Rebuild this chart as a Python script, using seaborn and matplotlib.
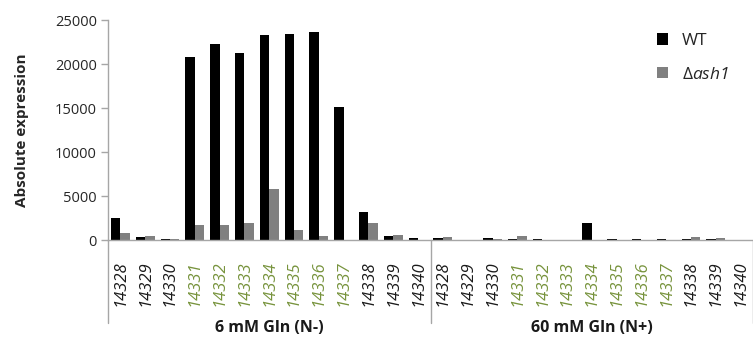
import matplotlib
matplotlib.use('Agg')
import matplotlib.pyplot as plt
import matplotlib.transforms as mtransforms
import pandas as pd
import seaborn as sns

# gene ids shown on the x axis (repeated for each condition)
genes = ['14328', '14329', '14330', '14331', '14332', '14333', '14334',
         '14335', '14336', '14337', '14338', '14339', '14340']
cluster_genes = ['14331', '14332', '14333', '14334', '14335', '14336', '14337']
conditions = ['6 mM Gln (N-)', '60 mM Gln (N+)']
strains = ['WT', 'Δash1']

# absolute expression
wt_low = [2550, 300, 100, 20750, 22300, 21200, 23300, 23450, 23650, 15100, 3150, 400, 260]
ash_low = [750, 450, 150, 1700, 1700, 1950, 5800, 1100, 450, 30, 1900, 570, 40]
wt_high = [190, 50, 190, 100, 60, 50, 1890, 60, 60, 60, 80, 60, 40]
ash_high = [380, 50, 80, 450, 40, 40, 30, 30, 50, 40, 300, 230, 20]

values = {
    (conditions[0], 'WT'): wt_low,
    (conditions[0], 'Δash1'): ash_low,
    (conditions[1], 'WT'): wt_high,
    (conditions[1], 'Δash1'): ash_high,
}

rows = []
for cond in conditions:
    for strain in strains:
        for gene, v in zip(genes, values[(cond, strain)]):
            rows.append({'pos': cond + '|' + gene, 'gene': gene, 'cond': cond,
                         'strain': strain, 'value': v})
df = pd.DataFrame(rows)
order = [c + '|' + g for c in conditions for g in genes]

sns.set_theme(style='white')
plt.rcParams['font.family'] = ['Open Sans', 'DejaVu Sans']
plt.rcParams['mathtext.fontset'] = 'custom'
plt.rcParams['mathtext.rm'] = 'Open Sans'
plt.rcParams['mathtext.it'] = 'Open Sans:italic'

fig = plt.figure(figsize=(7.53, 3.39), dpi=100)
ax = fig.add_axes([108 / 753, 99 / 339, 645 / 753, 220 / 339])

sns.barplot(data=df, x='pos', y='value', hue='strain', order=order,
            hue_order=strains, palette=['#000000', '#808080'],
            width=0.76, saturation=1, linewidth=0, ax=ax)

ax.set_xlim(-0.5, len(order) - 0.5)
ax.set_ylim(0, 25000)
ax.set_yticks(range(0, 25001, 5000))
ax.tick_params(axis='y', labelsize=10.5, labelcolor='#262626', left=True,
               length=5, color='#a6a6a6', width=1, pad=3)

ax.set_xticks(range(len(order)))
ax.set_xticklabels([g for c in conditions for g in genes], rotation=90,
                   fontsize=12, fontstyle='italic')
for lab in ax.get_xticklabels():
    lab.set_color('#77933c' if lab.get_text() in cluster_genes else '#1a1a1a')
ax.tick_params(axis='x', bottom=False, pad=9)
ax.set_xlabel('')

ax.set_ylabel('Absolute expression', fontsize=11, fontweight='bold', va='center')
ax.yaxis.set_label_coords(-(108 - 22) / 645, 0.5)

for s in ['top', 'right']:
    ax.spines[s].set_visible(False)
for s in ['left', 'bottom']:
    ax.spines[s].set_color('#a6a6a6')
    ax.spines[s].set_linewidth(1)

# group separators and group labels below the axis
trans = mtransforms.blended_transform_factory(ax.transData, ax.transAxes)
n = len(genes)
for k in range(len(conditions) + 1):
    xs = k * n - 0.5
    ax.plot([xs, xs], [0, -0.375], transform=trans, clip_on=False,
            color='#a6a6a6', lw=1)
for k, cond in enumerate(conditions):
    ax.text(k * n + (n - 1) / 2, -0.40, cond, transform=trans, ha='center',
            va='center', fontsize=11.5, fontweight='bold', color='#1a1a1a')

handles, _ = ax.get_legend_handles_labels()
leg = ax.legend(handles, ['WT', r'$\Delta$ash1'], loc='upper left',
                bbox_to_anchor=(0.851, 0.94), frameon=False, fontsize=12.5,
                handlelength=0.65, handleheight=0.65, handletextpad=0.8,
                labelspacing=1.0, borderpad=0, borderaxespad=0)
leg.get_texts()[1].set_fontstyle('italic')

fig.savefig('out.png', dpi=100)
